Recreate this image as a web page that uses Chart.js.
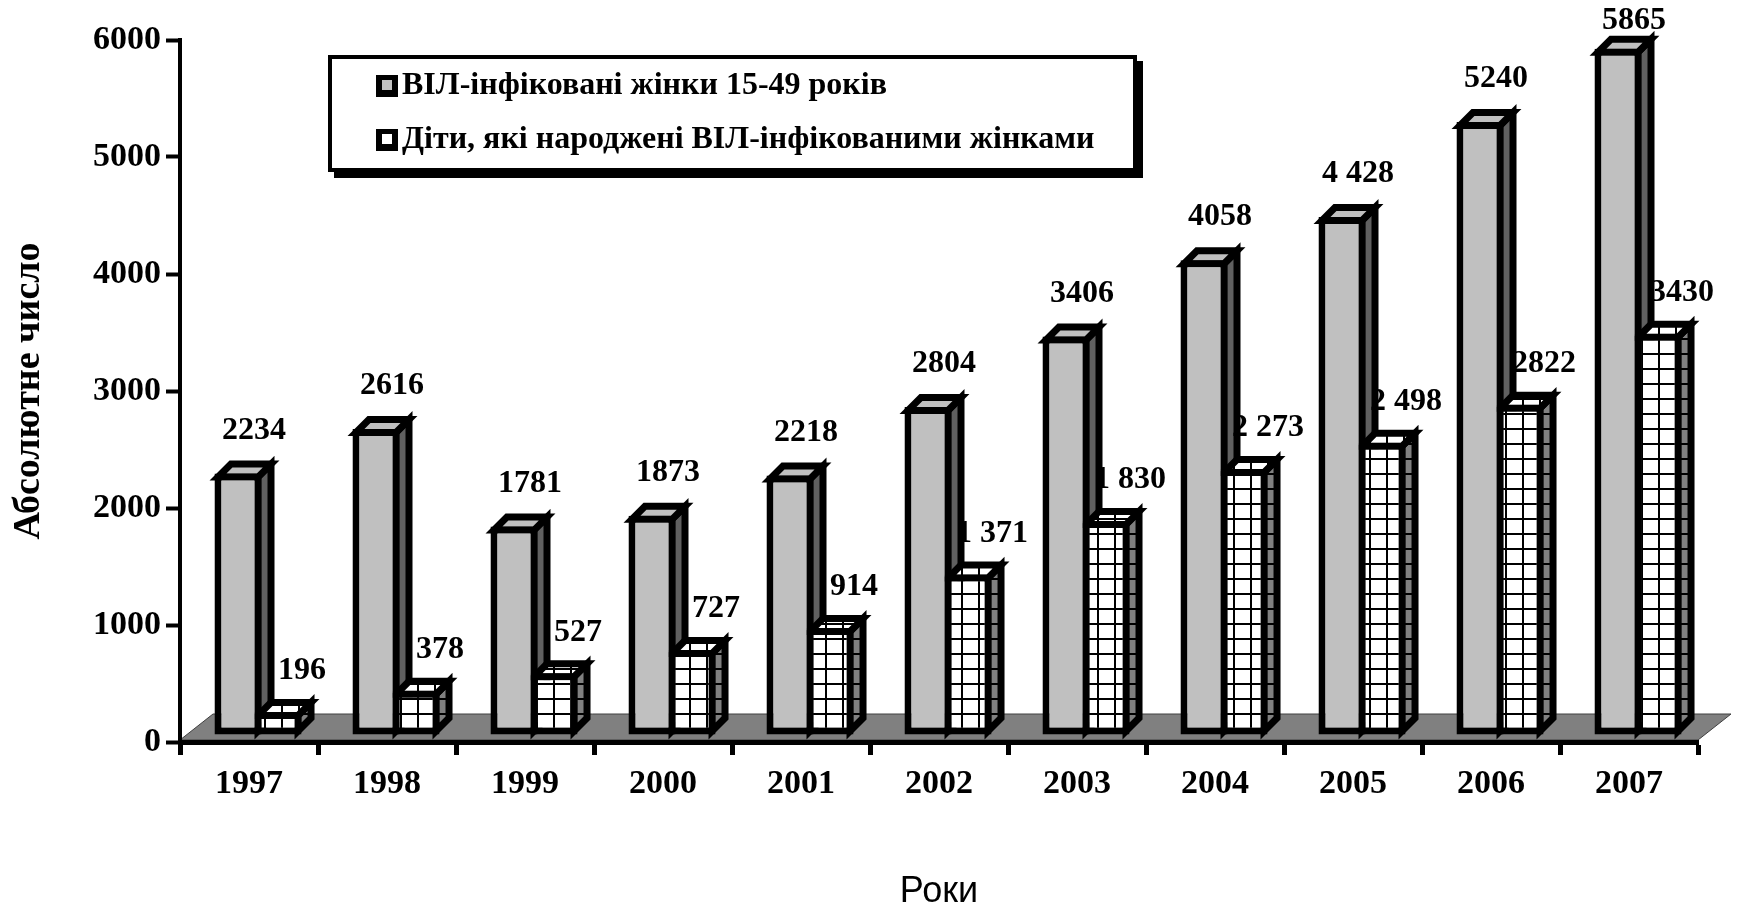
<!DOCTYPE html>
<html>
<head>
<meta charset="utf-8">
<script src="https://cdn.jsdelivr.net/npm/chart.js@4.4.1/dist/chart.umd.min.js"></script>
<style>
html,body{margin:0;padding:0;background:#fff;}
#c{display:block;}
</style>
</head>
<body>
<canvas id="c" width="1740" height="914"></canvas>
<script>
// ---- data ----
const categories = ['1997','1998','1999','2000','2001','2002','2003','2004','2005','2006','2007'];
const womenValues = [2234, 2616, 1781, 1873, 2218, 2804, 3406, 4058, 4428, 5240, 5865];
const childrenValues = [196, 378, 527, 727, 914, 1371, 1830, 2273, 2498, 2822, 3430];
const womenLabelText = ['2234','2616','1781','1873','2218','2804','3406','4058','4 428','5240','5865'];
const childrenLabelText = ['196','378','527','727','914','1 371','1 830','2 273','2 498','2822','3430'];
const yTickValues = [0, 1000, 2000, 3000, 4000, 5000, 6000];
const yTickLabels = ['0', '1000', '2000', '3000', '4000', '5000', '6000'];
const seriesNames = ['ВІЛ-інфіковані жінки 15-49 років', 'Діти, які народжені ВІЛ-інфікованими жінками'];
const xAxisTitle = 'Роки';
const yAxisTitle = 'Абсолютне число';

// ---- styling ----
const SERIF = '"Liberation Serif", "Times New Roman", serif';
const SANS = '"Liberation Sans", Arial, sans-serif';
const canvas = document.getElementById('c');
const ctx = canvas.getContext('2d');

function makePattern(bg, w, h, lw, withVertical) {
  const pc = document.createElement('canvas');
  pc.width = w; pc.height = h;
  const g = pc.getContext('2d');
  g.fillStyle = bg; g.fillRect(0, 0, w, h);
  g.fillStyle = '#000';
  g.fillRect(0, 0, w, lw);
  if (withVertical) g.fillRect(0, 0, lw, h);
  return ctx.createPattern(pc, 'repeat');
}
const frontGrid = makePattern('#ffffff', 17, 15, 2, true);
const sideGrid = makePattern('#808080', 17, 15, 2, false);

const SHIFT = {x: 9, y: -7};
const DEPTH = {x: 13, y: -13};
const FLOOR = {x: 33, y: -26};
const EDGE = 7;

function drawFaces(c, el, sideFill, topFill) {
  const p = el.getProps(['x', 'y', 'base', 'width'], true);
  const L = p.x - p.width / 2, R = p.x + p.width / 2;
  const T = Math.min(p.y, p.base), B = Math.max(p.y, p.base);
  const h = EDGE / 2;
  const l = L + h, r = R - h, t = T + h, b = B - h;
  c.lineWidth = EDGE; c.strokeStyle = '#000'; c.lineJoin = 'miter'; c.miterLimit = 10;
  c.beginPath();
  c.moveTo(r, t); c.lineTo(r + DEPTH.x, t + DEPTH.y); c.lineTo(r + DEPTH.x, b + DEPTH.y); c.lineTo(r, b); c.closePath();
  c.fillStyle = sideFill; c.fill(); c.stroke();
  c.beginPath();
  c.moveTo(l, t); c.lineTo(r, t); c.lineTo(r + DEPTH.x, t + DEPTH.y); c.lineTo(l + DEPTH.x, t + DEPTH.y); c.closePath();
  c.fillStyle = topFill; c.fill(); c.stroke();
}

const bar3d = {
  id: 'bar3d',
  beforeDraw(chart) {
    const c = chart.ctx, a = chart.chartArea;
    c.save();
    c.fillStyle = '#fff'; c.fillRect(0, 0, chart.width, chart.height);
    const y0 = a.bottom - 2;
    c.beginPath();
    c.moveTo(a.left, y0); c.lineTo(a.right, y0);
    c.lineTo(a.right + FLOOR.x, y0 + FLOOR.y); c.lineTo(a.left + FLOOR.x, y0 + FLOOR.y); c.closePath();
    c.fillStyle = '#808080'; c.fill();
    c.lineWidth = 1; c.strokeStyle = '#404040'; c.stroke();
    c.restore();
  },
  beforeDatasetsDraw(chart) {
    const c = chart.ctx;
    c.save();
    c.translate(SHIFT.x, SHIFT.y);
    const m0 = chart.getDatasetMeta(0), m1 = chart.getDatasetMeta(1);
    for (let i = 0; i < m0.data.length; i++) {
      drawFaces(c, m0.data[i], '#606060', '#c0c0c0');
      drawFaces(c, m1.data[i], sideGrid, frontGrid);
    }
  },
  afterDatasetsDraw(chart) {
    const c = chart.ctx;
    const m0 = chart.getDatasetMeta(0), m1 = chart.getDatasetMeta(1);
    c.fillStyle = '#000';
    c.font = 'bold 32px ' + SERIF;
    c.textAlign = 'center'; c.textBaseline = 'middle';
    m0.data.forEach((el, i) => {
      const ty = Math.max(el.y - 43, 28);
      c.fillText(womenLabelText[i], el.x + 16, ty);
    });
    m1.data.forEach((el, i) => {
      c.fillText(childrenLabelText[i], el.x + 24, el.y - 41);
    });
    c.restore();
  },
  afterDraw(chart) {
    const c = chart.ctx;
    c.save();
    const bx = 328, by = 55, bw = 809, bh = 117;
    c.fillStyle = '#000'; c.fillRect(bx + 6, by + 6, bw, bh);
    c.fillStyle = '#fff'; c.fillRect(bx, by, bw, bh);
    c.lineWidth = 4; c.strokeStyle = '#000'; c.strokeRect(bx + 2, by + 2, bw - 4, bh - 4);
    const rows = [{y: 86, inner: '#c0c0c0'}, {y: 140, inner: '#ffffff'}];
    c.font = 'bold 32px ' + SERIF;
    c.textAlign = 'left'; c.textBaseline = 'middle';
    rows.forEach((r, i) => {
      c.fillStyle = '#000'; c.fillRect(376, r.y - 11, 22, 22);
      c.fillStyle = r.inner; c.fillRect(382, r.y - 6, 10, 10);
      c.fillStyle = '#000';
      c.fillText(chart.data.datasets[i].label, 402, r.y);
    });
    c.restore();
  }
};

Chart.defaults.font.family = SERIF;

new Chart(ctx, {
  type: 'bar',
  data: {
    labels: categories,
    datasets: [
      {
        label: seriesNames[0], data: womenValues,
        backgroundColor: '#c0c0c0', borderColor: '#000', borderWidth: EDGE, borderSkipped: false,
        categoryPercentage: 0.58, barPercentage: 1.175, clip: false
      },
      {
        label: seriesNames[1], data: childrenValues,
        backgroundColor: frontGrid, borderColor: '#000', borderWidth: EDGE, borderSkipped: false,
        categoryPercentage: 0.58, barPercentage: 1.175, clip: false
      }
    ]
  },
  options: {
    responsive: false,
    animation: false,
    devicePixelRatio: 1,
    layout: {padding: {top: 40, right: 42, left: 0, bottom: 0}},
    plugins: {legend: {display: false}, tooltip: {enabled: false}},
    scales: {
      x: {
        grid: {offset: true, drawOnChartArea: false, drawTicks: true, tickLength: 13, tickWidth: 5, tickColor: '#000'},
        border: {display: true, width: 5, color: '#000'},
        ticks: {font: {family: SERIF, size: 34, weight: 'bold'}, color: '#000', padding: 9, maxRotation: 0},
        title: {display: true, text: xAxisTitle, font: {family: SANS, size: 36, weight: 'normal'}, color: '#000', padding: {top: 0, bottom: 0}},
        afterFit(s) { s.height = 172; }
      },
      y: {
        min: 0, max: 6000,
        afterBuildTicks(s) { s.ticks = yTickValues.map(v => ({value: v})); },
        grid: {drawOnChartArea: false, drawTicks: true, tickLength: 14, tickWidth: 4, tickColor: '#000'},
        border: {display: true, width: 4, color: '#000'},
        ticks: {
          font: {family: SERIF, size: 34, weight: 'bold'}, color: '#000', padding: 5,
          callback: (v) => { const k = yTickValues.indexOf(v); return k >= 0 ? yTickLabels[k] : ''; }
        },
        title: {display: true, text: yAxisTitle, font: {family: SERIF, size: 38, weight: 'bold'}, color: '#000', padding: {top: 6, bottom: 0}},
        afterFit(s) { s.width = 180; }
      }
    }
  },
  plugins: [bar3d]
});
</script>
</body>
</html>
